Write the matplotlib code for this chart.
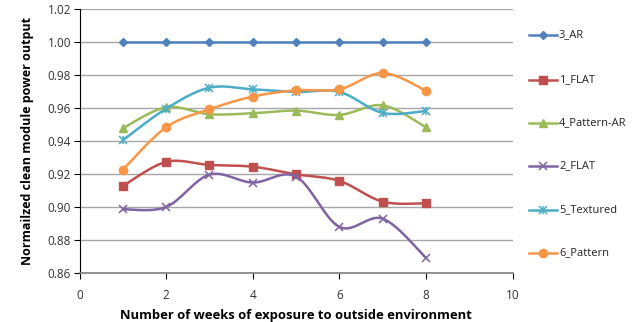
import numpy as np
import matplotlib
matplotlib.use("Agg")
import matplotlib.pyplot as plt

weeks = [1, 2, 3, 4, 5, 6, 7, 8]
ar_3 = [1.000, 1.000, 1.000, 1.000, 1.000, 1.000, 1.000, 1.000]
flat_1 = [0.9129, 0.9275, 0.9257, 0.9246, 0.9200, 0.9160, 0.9034, 0.9024]
pattern_ar_4 = [0.9479, 0.9606, 0.9564, 0.9570, 0.9586, 0.9560, 0.9618, 0.9485]
flat_2 = [0.8988, 0.9002, 0.9198, 0.9150, 0.9186, 0.8881, 0.8931, 0.8693]
textured_5 = [0.9406, 0.9598, 0.9725, 0.9715, 0.9699, 0.9699, 0.9572, 0.9584]
pattern_6 = [0.9228, 0.9485, 0.9594, 0.9671, 0.9709, 0.9715, 0.9814, 0.9707]

labels = ["3_AR", "1_FLAT", "4_Pattern-AR", "2_FLAT", "5_Textured", "6_Pattern"]
series = [ar_3, flat_1, pattern_ar_4, flat_2, textured_5, pattern_6]
colors = ["#4F81BD", "#C0504D", "#9BBB59", "#8064A2", "#4BACC6", "#F79646"]
markers = ["D", "s", "^", "x", "star", "o"]
msizes = [4, 6, 6, 6, 6, 6]

FONT = "Open Sans"


def smooth(x, y, n=30):
    """Bezier smoothing through the points (control points at 1/6 of neighbour spans)."""
    p = np.column_stack([x, y]).astype(float)
    m = len(p)
    out = []
    for i in range(m - 1):
        p0 = p[i - 1] if i > 0 else p[i]
        p1 = p[i]
        p2 = p[i + 1]
        p3 = p[i + 2] if i + 2 < m else p[i + 1]
        c1 = p1 + (p2 - p0) / 6.0
        c2 = p2 - (p3 - p1) / 6.0
        t = np.linspace(0, 1, n)[:, None]
        seg = ((1 - t) ** 3) * p1 + 3 * ((1 - t) ** 2) * t * c1 + 3 * (1 - t) * t ** 2 * c2 + t ** 3 * p2
        out.append(seg if i == 0 else seg[1:])
    s = np.vstack(out)
    return s[:, 0], s[:, 1]


fig = plt.figure(figsize=(6.36, 3.22), dpi=100)
ax = fig.add_axes([79.5 / 636, 1 - 273.3 / 322, (512.7 - 79.5) / 636, (273.3 - 9.3) / 322])

ax.set_xlim(0, 10)
ax.set_ylim(0.86, 1.02)
ax.set_xticks(np.arange(0, 11, 2))
ax.set_yticks(np.arange(0.86, 1.0201, 0.02))
ax.set_yticklabels([f"{v:.2f}" for v in np.arange(0.86, 1.0201, 0.02)])
ax.grid(axis="y", color="#a6a6a6", lw=1.0)
ax.set_axisbelow(True)
for s in ["top", "right"]:
    ax.spines[s].set_visible(False)
ax.spines["left"].set_color("black")
ax.spines["bottom"].set_color("#808080")
ax.spines["bottom"].set_linewidth(1.2)
ax.tick_params(axis="y", direction="out", length=4, width=0.8, labelsize=8.5, pad=2)
ax.tick_params(axis="x", direction="out", length=4, width=0.8, labelsize=8.5, pad=7)
for t in ax.get_xticklabels() + ax.get_yticklabels():
    t.set_fontfamily(FONT)
    t.set_color("#333333")

ax.set_xlabel("Number of weeks of exposure to outside environment", fontsize=9.4,
              fontweight="bold", fontfamily=FONT, labelpad=5)
ax.set_ylabel("Normailzed clean module power output", fontsize=9,
              fontweight="bold", fontfamily=FONT, labelpad=10)


def draw_marker(axes, x, y, mk, c, ms, **kw):
    if mk == "star":
        axes.plot(x, y, ls="none", marker="x", ms=ms, mec=c, mew=1.1, **kw)
        axes.plot(x, y, ls="none", marker="|", ms=ms, mec=c, mew=1.1, **kw)
    elif mk == "x":
        axes.plot(x, y, ls="none", marker="x", ms=ms, mec=c, mew=1.1, **kw)
    else:
        axes.plot(x, y, ls="none", marker=mk, ms=ms, mfc=c, mec=c, **kw)


for vals, c, mk, ms in zip(series, colors, markers, msizes):
    sx, sy = smooth(weeks, vals)
    ax.plot(sx, sy, color=c, lw=1.8, solid_capstyle="round", clip_on=False)
    draw_marker(ax, weeks, vals, mk, c, ms, clip_on=False)

# legend drawn in figure pixel space
lx0, lx1, tx = 529, 557, 559
rows = [35, 80, 123, 166, 210, 253]
leg_ax = fig.add_axes([0, 0, 1, 1], facecolor="none")
leg_ax.set_xlim(0, 636)
leg_ax.set_ylim(322, 0)
leg_ax.axis("off")
for lab, c, mk, ms, yy in zip(labels, colors, markers, msizes, rows):
    leg_ax.plot([lx0, lx1], [yy, yy], color=c, lw=1.8)
    draw_marker(leg_ax, [(lx0 + lx1) / 2], [yy], mk, c, ms)
    leg_ax.text(tx, yy, lab, fontsize=8, fontfamily=FONT, va="center", ha="left", color="#222222")

fig.savefig("out.png", dpi=100)
